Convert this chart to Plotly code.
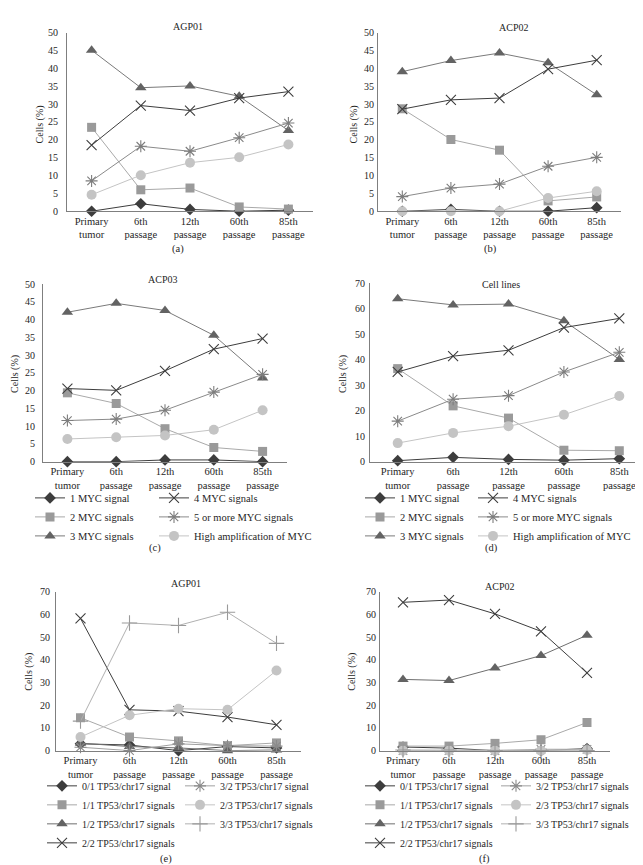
import plotly.graph_objects as go

W, H = 643, 865

stages = ["Primary<br>tumor", "6th<br>passage", "12th<br>passage", "60th<br>passage", "85th<br>passage"]

myc_names = ["1 MYC signal", "2 MYC signals", "3 MYC signals",
             "4 MYC signals", "5 or more MYC signals", "High amplification of MYC"]
tp53_names_e = ["0/1 TP53/chr17 signal", "1/1 TP53/chr17 signals", "1/2 TP53/chr17 signals",
                "2/2 TP53/chr17 signals", "3/2 TP53/chr17 signal", "2/3 TP53/chr17 signals",
                "3/3 TP53/chr17 signals"]
tp53_names_f = ["0/1 TP53/chr17 signal", "1/1 TP53/chr17 signals", "1/2 TP53/chr17 signals",
                "2/2 TP53/chr17 signals", "3/2 TP53/chr17 signals", "2/3 TP53/chr17 signals",
                "3/3 TP53/chr17 signals"]

# (a) AGP01 - MYC
agp01_myc1 = [0.0, 2.1, 0.5, 0.0, 0.3]
agp01_myc2 = [23.5, 6.0, 6.5, 1.2, 0.6]
agp01_myc3 = [45.1, 34.6, 35.1, 32.2, 22.6]
agp01_myc4 = [18.5, 29.6, 28.2, 31.7, 33.5]
agp01_myc5 = [8.5, 18.2, 16.8, 20.6, 24.7]
agp01_mycH = [4.6, 10.1, 13.6, 15.1, 18.7]

# (b) ACP02 - MYC
acp02_myc1 = [0.0, 0.5, 0.0, 0.0, 1.0]
acp02_myc2 = [28.7, 20.1, 17.1, 2.9, 4.0]
acp02_myc3 = [39.1, 42.2, 44.3, 41.6, 32.6]
acp02_myc4 = [28.6, 31.2, 31.7, 39.8, 42.3]
acp02_myc5 = [4.1, 6.5, 7.6, 12.6, 15.1]
acp02_mycH = [0.0, 0.0, 0.0, 3.7, 5.6]

# (c) ACP03 - MYC
acp03_myc1 = [0.0, 0.0, 0.5, 0.5, 0.0]
acp03_myc2 = [19.4, 16.4, 9.3, 4.0, 2.9]
acp03_myc3 = [42.1, 44.6, 42.6, 35.6, 23.6]
acp03_myc4 = [20.6, 20.1, 25.6, 31.7, 34.7]
acp03_myc5 = [11.6, 12.0, 14.5, 19.6, 24.6]
acp03_mycH = [6.4, 6.9, 7.4, 9.0, 14.5]

# (d) Cell lines - MYC
cell_myc1 = [0.4, 1.7, 0.9, 0.6, 1.2]
cell_myc2 = [36.5, 21.9, 17.1, 4.5, 4.3]
cell_myc3 = [63.9, 61.5, 61.8, 55.3, 40.1]
cell_myc4 = [35.2, 41.4, 43.7, 52.6, 56.2]
cell_myc5 = [15.9, 24.5, 25.9, 35.2, 42.9]
cell_mycH = [7.3, 11.3, 13.9, 18.4, 25.8]

# (e) AGP01 - TP53/chr17
agp01_tp01 = [3.0, 2.5, 0.0, 1.8, 1.2]
agp01_tp11 = [14.5, 6.0, 4.3, 2.2, 3.4]
agp01_tp12 = [3.3, 1.8, 1.2, 0.0, 0.3]
agp01_tp22 = [58.3, 18.0, 17.4, 14.8, 11.4]
agp01_tp32 = [1.5, 0.0, 3.0, 2.2, 2.0]
agp01_tp23 = [6.0, 15.6, 18.5, 18.0, 35.3]
agp01_tp33 = [13.0, 56.3, 55.2, 61.0, 47.3]

# (f) ACP02 - TP53/chr17
acp02_tp01 = [1.6, 1.1, 0.0, 0.0, 0.9]
acp02_tp11 = [2.0, 2.0, 3.2, 4.8, 12.4]
acp02_tp12 = [31.4, 30.9, 36.4, 41.9, 50.9]
acp02_tp22 = [65.4, 66.4, 60.3, 52.6, 34.3]
acp02_tp32 = [0.0, 0.0, 0.0, 0.6, 0.6]
acp02_tp23 = [0.0, 0.0, 0.0, 0.0, 0.3]
acp02_tp33 = [0.3, 0.3, 0.0, 0.0, 0.0]

FONT = "Liberation Serif"
TXT = "#262626"

# styles: (symbol, marker color, line color, size, open-line)
myc_styles = [
    ("diamond", "#3d3d3d", "#3d3d3d", 9, False),
    ("square", "#9a9a9a", "#a9a9a9", 9, False),
    ("triangle-up", "#636363", "#7a7a7a", 10, False),
    ("x-thin-open", "#3d3d3d", "#3d3d3d", 10, True),
    ("asterisk-open", "#7d7d7d", "#8a8a8a", 10, True),
    ("circle", "#c4c4c4", "#c4c4c4", 10, False),
]
tp_styles = [
    ("diamond", "#3d3d3d", "#3d3d3d", 9, False),
    ("square", "#9a9a9a", "#a9a9a9", 9, False),
    ("triangle-up", "#636363", "#6e6e6e", 10, False),
    ("x-thin-open", "#3d3d3d", "#3d3d3d", 10, True),
    ("asterisk-open", "#8a8a8a", "#a0a0a0", 10, True),
    ("circle", "#c4c4c4", "#c4c4c4", 10, False),
    ("cross-thin-open", "#9a9a9a", "#b0b0b0", 11, True),
]

panels = [
    dict(xl=59, xr=305, yb=200, yt=19, ymax=50, dt=5, so=6,
         data=[agp01_myc1, agp01_myc2, agp01_myc3, agp01_myc4, agp01_myc5, agp01_mycH],
         names=myc_names, styles=myc_styles, leg=None),
    dict(xl=370, xr=613, yb=200, yt=19, ymax=50, dt=5, so=1,
         data=[acp02_myc1, acp02_myc2, acp02_myc3, acp02_myc4, acp02_myc5, acp02_mycH],
         names=myc_names, styles=myc_styles, leg=None),
    dict(xl=35, xr=279, yb=454, yt=274, ymax=50, dt=5, so=5,
         data=[acp03_myc1, acp03_myc2, acp03_myc3, acp03_myc4, acp03_myc5, acp03_mycH],
         names=myc_names, styles=myc_styles, leg=("legend", "legend2", 3)),
    dict(xl=362, xr=639, yb=454, yt=273, ymax=70, dt=10, so=2,
         data=[cell_myc1, cell_myc2, cell_myc3, cell_myc4, cell_myc5, cell_mycH],
         names=myc_names, styles=myc_styles, leg=("legend3", "legend4", 3)),
    dict(xl=48, xr=293, yb=747, yt=586, ymax=70, dt=10, so=3,
         data=[agp01_tp01, agp01_tp11, agp01_tp12, agp01_tp22, agp01_tp32, agp01_tp23, agp01_tp33],
         names=tp53_names_e, styles=tp_styles, leg=("legend5", "legend6", 4)),
    dict(xl=372, xr=602, yb=747, yt=586, ymax=70, dt=10, so=1,
         data=[acp02_tp01, acp02_tp11, acp02_tp12, acp02_tp22, acp02_tp32, acp02_tp23, acp02_tp33],
         names=tp53_names_f, styles=tp_styles, leg=("legend7", "legend8", 4)),
]

fig = go.Figure()
layout = dict(
    width=W, height=H,
    margin=dict(l=0, r=0, t=0, b=0),
    paper_bgcolor="white", plot_bgcolor="white",
    font=dict(family=FONT, size=10, color=TXT),
    annotations=[],
)

for i, p in enumerate(panels):
    k = "" if i == 0 else str(i + 1)
    xa, ya = "x" + k, "y" + k
    for j, (vals, name, st) in enumerate(zip(p["data"], p["names"], p["styles"])):
        sym, mc, lc, sz, op = st
        marker = dict(symbol=sym, size=sz, color=mc)
        if op:
            marker["line"] = dict(width=1.1, color=mc)
        else:
            marker["line"] = dict(width=0)
        tr = dict(x=stages, y=vals, name=name, mode="lines+markers",
                  line=dict(color=lc, width=1), marker=marker,
                  xaxis=xa, yaxis=ya, cliponaxis=False, hoverinfo="skip")
        if p["leg"] is None:
            tr["showlegend"] = False
        else:
            l1, l2, n1 = p["leg"]
            tr["legend"] = l1 if j < n1 else l2
            tr["showlegend"] = True
        fig.add_trace(go.Scatter(**tr))
    layout["xaxis" + k] = dict(
        domain=[p["xl"] / W, p["xr"] / W], anchor=ya, type="category",
        range=[-0.5, 4.5], showline=True, linecolor="#7f7f7f", linewidth=1,
        showgrid=False, zeroline=False, ticks="", tickfont=dict(size=10.5, color=TXT),
        fixedrange=True,
    )
    layout["yaxis" + k] = dict(
        domain=[1 - p["yb"] / H, 1 - p["yt"] / H], anchor=xa,
        range=[0, p["ymax"]], dtick=p["dt"], tick0=0, showline=True,
        linecolor="#7f7f7f", linewidth=1, showgrid=False, zeroline=False,
        ticks="", ticklabelstandoff=p["so"], tickfont=dict(size=10, color=TXT),
        fixedrange=True,
    )

# legends (two columns each, as separate vertical legends)
leg_pos = {
    "legend": (22, 476, 10.5), "legend2": (146, 476, 10.5),
    "legend3": (352, 476, 10.5), "legend4": (465, 476, 10.5),
    "legend5": (34, 768, 10), "legend6": (172, 768, 10),
    "legend7": (352, 768, 10), "legend8": (488, 768, 10),
}
for name, (lx, ly, fs) in leg_pos.items():
    layout[name] = dict(
        x=lx / W, y=1 - ly / H, xanchor="left", yanchor="top",
        orientation="v", bgcolor="rgba(0,0,0,0)", borderwidth=0,
        font=dict(family=FONT, size=fs, color=TXT), itemwidth=30,
        tracegroupgap=0, itemclick=False, itemdoubleclick=False,
    )

def ann(text, x, y, size=10, angle=0):
    return dict(text=text, x=x / W, y=1 - y / H, xref="paper", yref="paper",
                showarrow=False, font=dict(family=FONT, size=size, color=TXT),
                textangle=angle, xanchor="center", yanchor="middle")

titles = [("AGP01", 180, 13), ("ACP02", 505, 14), ("ACP03", 154, 269),
          ("Cell lines", 493, 274), ("AGP01", 178, 578), ("ACP02", 491, 581)]
for t, x, y in titles:
    layout["annotations"].append(ann(t, x, y))

ylabels = [(32, 112), (346, 112), (7, 365), (335, 365), (21, 667), (344, 667)]
for x, y in ylabels:
    layout["annotations"].append(ann("Cells (%)", x, y, angle=-90))

sub = [("(a)", 170, 238), ("(b)", 482, 238), ("(c)", 147, 542),
       ("(d)", 483, 542), ("(e)", 158, 857), ("(f)", 477, 857)]
for t, x, y in sub:
    layout["annotations"].append(ann(t, x, y, size=10.5))

fig.update_layout(**layout)
fig.write_html("out.html")
